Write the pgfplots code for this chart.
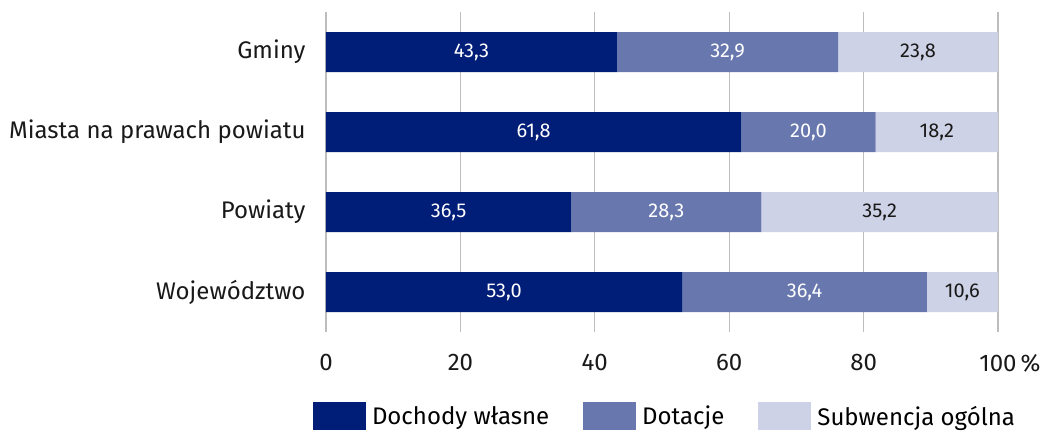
\documentclass[border=0pt]{standalone}
\usepackage{pgfplots}
\pgfplotsset{compat=1.18}
\usepackage{pgfplotstable}
\usepackage{fontspec}
\setmainfont{Fira Sans}
\definecolor{c1}{HTML}{001D77}
\definecolor{c2}{HTML}{6878AE}
\definecolor{c3}{HTML}{CDD2E6}
\definecolor{gridc}{HTML}{BDBDBD}
\pgfplotstableread{
y dw dot sub
0 43.3 32.9 23.8
1 61.8 20.0 18.2
2 36.5 28.3 35.2
3 53.0 36.4 10.6
}\data
\begin{document}
\begin{tikzpicture}
\begin{axis}[
  scale only axis, width=672bp, height=320bp,
  at={(0,0)}, anchor=south west,
  xbar stacked, bar width=40bp,
  xmin=0, xmax=100, ymin=-0.5, ymax=3.5, y dir=reverse,
  axis line style={draw=none},
  major tick length=0pt,
  xmajorgrids, grid style={gridc, line width=1.3bp},
  xtick={0,20,40,60,80,100},
  xticklabels={0,20,40,60,80,100\makebox[0pt][l]{\,\%}},
  ytick={0,1,2,3},
  yticklabels={Gminy,Miasta na prawach powiatu,Powiaty,Województwo},
  ticklabel style={font=\fontsize{24bp}{28bp}\selectfont, text=black!90},
  xticklabel style={yshift=-19bp},
  yticklabel style={xshift=-17bp},
  /pgf/number format/assume math mode=true,
  point meta=explicit,
  nodes near coords={\pgfmathprintnumber[fixed,fixed zerofill,precision=1,use comma]{\pgfplotspointmeta}},
  every node near coord/.append style={anchor=center, font=\fontsize{20bp}{24bp}\selectfont},
  legend columns=3,
  legend style={draw=none, at={(0.5,0)}, anchor=north, yshift=-70bp, xshift=5bp, font=\fontsize{24bp}{28bp}\selectfont, /tikz/every even column/.append style={column sep=28bp}, inner sep=0pt, nodes={inner xsep=6bp}},
  legend image code/.code={\fill[#1] (0bp,-14bp) rectangle (53bp,14bp);},
]
\addplot[fill=c1, draw=none, every node near coord/.append style={text=white}] table[x=dw, y=y, meta=dw] {\data};
\addplot[fill=c2, draw=none, every node near coord/.append style={text=white}] table[x=dot, y=y, meta=dot] {\data};
\addplot[fill=c3, draw=none, every node near coord/.append style={text=black!90}] table[x=sub, y=y, meta=sub] {\data};
\legend{Dochody własne, Dotacje, Subwencja ogólna}
\end{axis}
\path[use as bounding box] (-326bp,-98bp) rectangle (718bp,332bp);
\end{tikzpicture}
\end{document}
